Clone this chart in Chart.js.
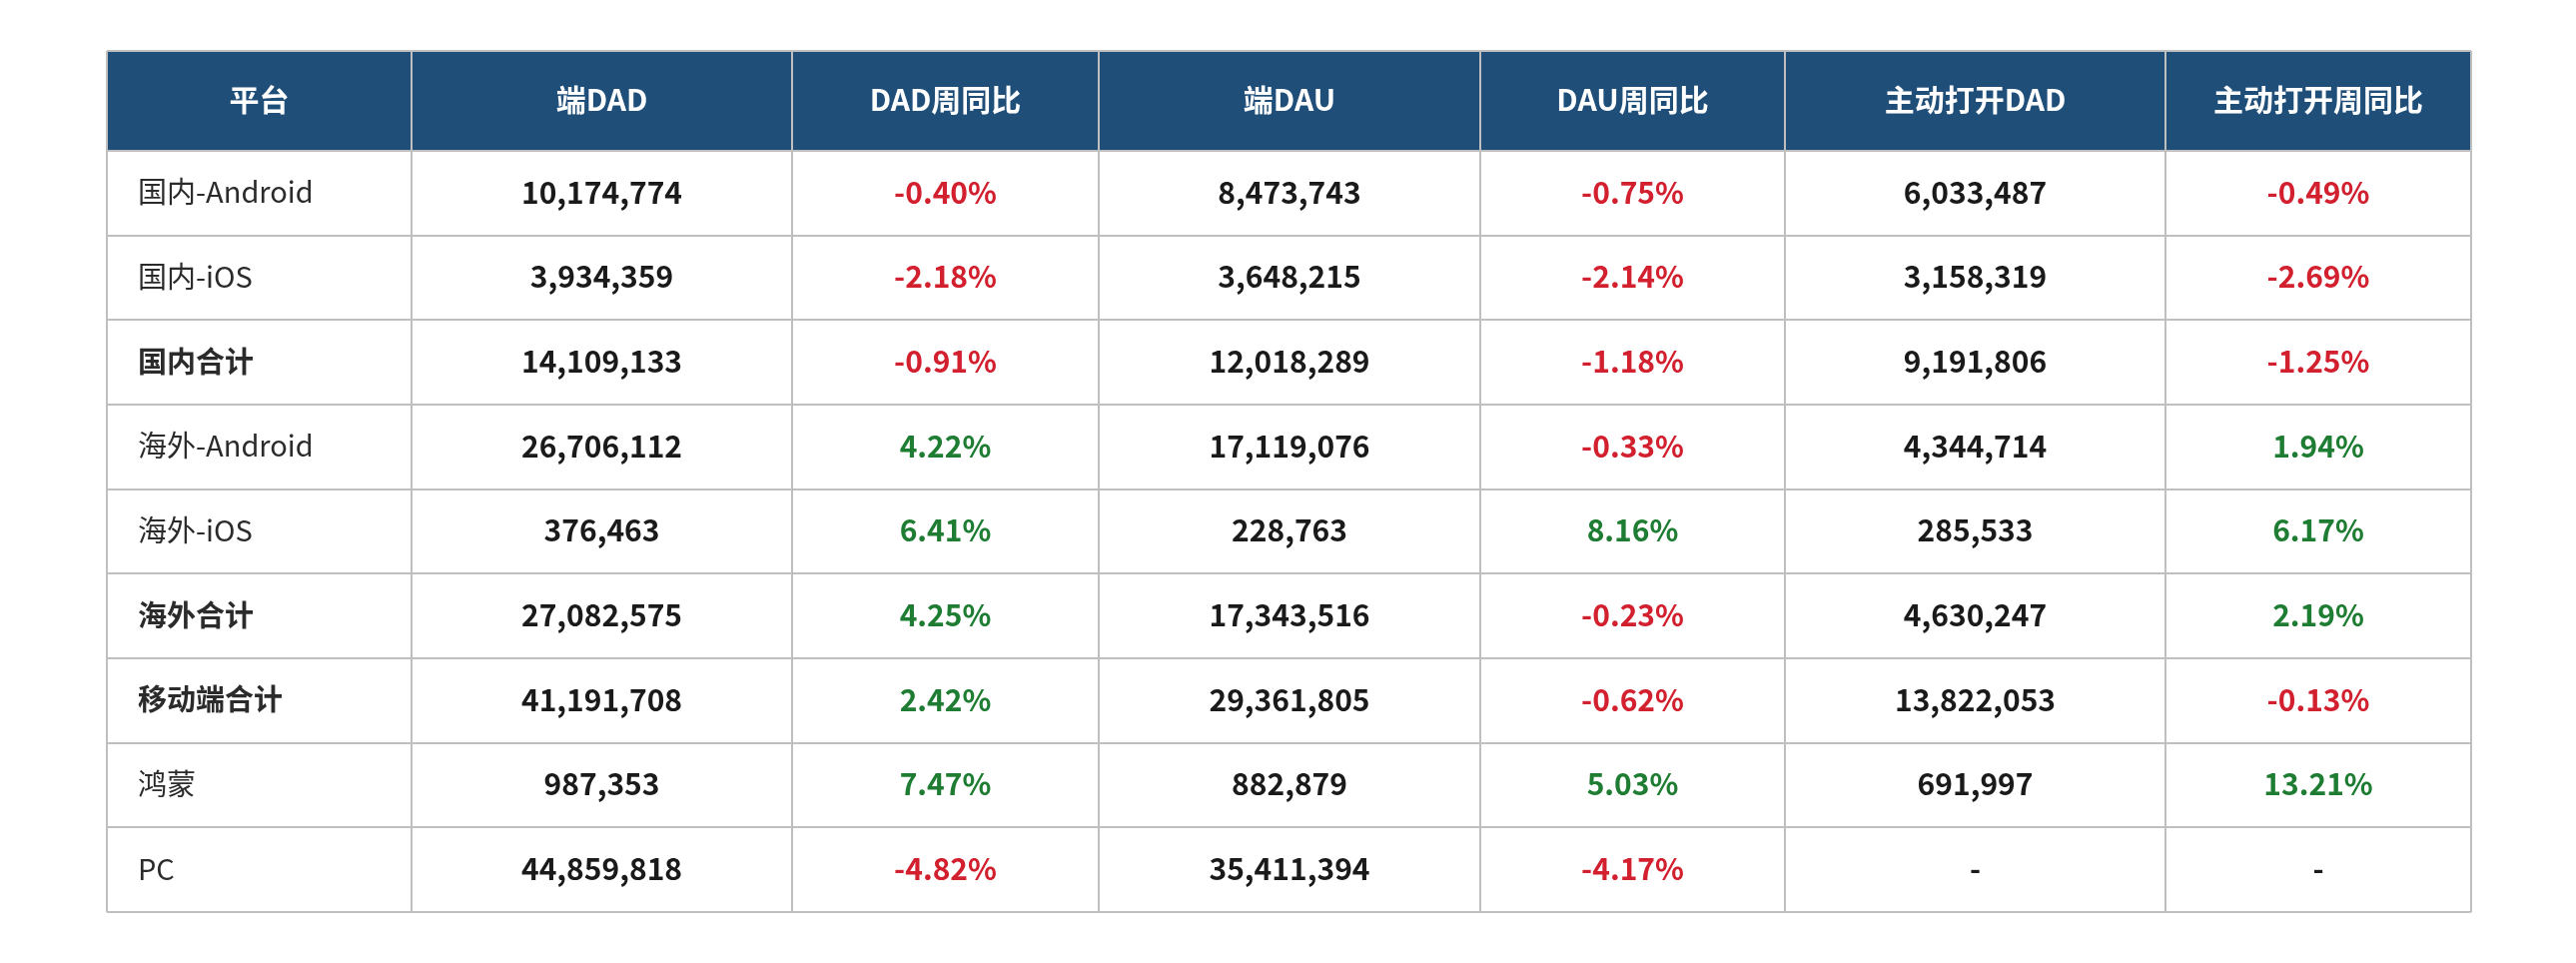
<!DOCTYPE html>
<html>
<head>
<meta charset="utf-8">
<script src="https://cdn.jsdelivr.net/npm/chart.js@4.4.1/dist/chart.umd.min.js"></script>
<style>
html,body{margin:0;padding:0;background:#fff;}
#wrap{width:2579px;height:964px;}
</style>
</head>
<body>
<div id="wrap"><canvas id="c" width="2579" height="964"></canvas></div>
<script>
// ---- data ----
const headers = ['平台', '端DAD', 'DAD周同比', '端DAU', 'DAU周同比', '主动打开DAD', '主动打开周同比'];
const platforms = ['国内-Android', '国内-iOS', '国内合计', '海外-Android', '海外-iOS', '海外合计', '移动端合计', '鸿蒙', 'PC'];
const totalRows = ['国内合计', '海外合计', '移动端合计'];
const dad = [10174774, 3934359, 14109133, 26706112, 376463, 27082575, 41191708, 987353, 44859818];
const dadWoW = [-0.40, -2.18, -0.91, 4.22, 6.41, 4.25, 2.42, 7.47, -4.82];
const dau = [8473743, 3648215, 12018289, 17119076, 228763, 17343516, 29361805, 882879, 35411394];
const dauWoW = [-0.75, -2.14, -1.18, -0.33, 8.16, -0.23, -0.62, 5.03, -4.17];
const activeDad = [6033487, 3158319, 9191806, 4344714, 285533, 4630247, 13822053, 691997, null];
const activeWoW = [-0.49, -2.69, -1.25, 1.94, 6.17, 2.19, -0.13, 13.21, null];

// ---- layout / style (not data) ----
const colWidths = [305, 381, 307, 382, 305, 381, 306];
const headerUnits = 100;
const rowUnits = 84.67;
const FONT = '"Noto Sans CJK SC", "Noto Sans", sans-serif';
const C = {
  header: '#1f4e79', grid: '#bfbfbf', text: '#1a1a1a', label: '#2b2b2b',
  neg: '#d2202f', pos: '#1e7d32'
};

const colEdges = [0];
colWidths.forEach(w => colEdges.push(colEdges[colEdges.length - 1] + w));
const totalW = colEdges[colEdges.length - 1];
const totalH = headerUnits + rowUnits * platforms.length;

const fmtInt = v => v === null ? '-' : v.toLocaleString('en-US');
const fmtPct = v => v === null ? '-' : v.toFixed(2) + '%';
const pctColor = v => v === null ? C.text : (v < 0 ? C.neg : C.pos);

const columns = [
  null,
  { vals: dad, fmt: fmtInt, col: () => C.text },
  { vals: dadWoW, fmt: fmtPct, col: pctColor },
  { vals: dau, fmt: fmtInt, col: () => C.text },
  { vals: dauWoW, fmt: fmtPct, col: pctColor },
  { vals: activeDad, fmt: fmtInt, col: () => C.text },
  { vals: activeWoW, fmt: fmtPct, col: pctColor }
];

const tablePlugin = {
  id: 'tablePlugin',
  afterDraw(chart) {
    const ctx = chart.ctx;
    const xs = chart.scales.x, ys = chart.scales.y;
    const X = v => xs.getPixelForValue(v);
    const Y = v => ys.getPixelForValue(v);
    const rowTop = r => r < 0 ? 0 : headerUnits + r * rowUnits;
    const rowBot = r => r < 0 ? headerUnits : headerUnits + (r + 1) * rowUnits;
    ctx.save();
    // header background
    ctx.fillStyle = C.header;
    ctx.fillRect(X(0), Y(0), X(totalW) - X(0), Y(headerUnits) - Y(0));
    // grid lines
    ctx.strokeStyle = C.grid;
    ctx.lineWidth = 2;
    ctx.beginPath();
    for (let r = -1; r < platforms.length; r++) {
      const y = Math.round(Y(rowTop(r)));
      ctx.moveTo(X(0), y); ctx.lineTo(X(totalW), y);
    }
    const yb = Math.round(Y(totalH));
    ctx.moveTo(X(0), yb); ctx.lineTo(X(totalW), yb);
    colEdges.forEach(e => {
      const x = Math.round(X(e));
      ctx.moveTo(x, Y(0)); ctx.lineTo(x, Y(totalH));
    });
    ctx.stroke();
    // header text
    ctx.textBaseline = 'middle';
    ctx.textAlign = 'center';
    ctx.fillStyle = '#ffffff';
    ctx.font = 'bold 30px ' + FONT;
    headers.forEach((h, i) => {
      ctx.fillText(h, (X(colEdges[i]) + X(colEdges[i + 1])) / 2, (Y(0) + Y(headerUnits)) / 2 - 1);
    });
    // body
    platforms.forEach((p, r) => {
      const cy = (Y(rowTop(r)) + Y(rowBot(r))) / 2 - 1;
      ctx.textAlign = 'left';
      ctx.fillStyle = C.label;
      ctx.font = (totalRows.includes(p) ? 'bold ' : '') + '29px ' + FONT;
      ctx.fillText(p, X(colEdges[0]) + 31, cy);
      for (let c = 1; c < columns.length; c++) {
        const col = columns[c];
        const v = col.vals[r];
        ctx.textAlign = 'center';
        ctx.fillStyle = col.col(v);
        ctx.font = 'bold 30px ' + FONT;
        ctx.fillText(col.fmt(v), (X(colEdges[c]) + X(colEdges[c + 1])) / 2, cy);
      }
    });
    ctx.restore();
  }
};

new Chart(document.getElementById('c'), {
  type: 'scatter',
  data: { datasets: [{ data: [], showLine: false }] },
  options: {
    responsive: false,
    animation: false,
    devicePixelRatio: 1,
    layout: { padding: { left: 107, right: 105, top: 51, bottom: 51 } },
    plugins: { legend: { display: false }, tooltip: { enabled: false } },
    scales: {
      x: { type: 'linear', display: false, min: 0, max: totalW },
      y: { type: 'linear', display: false, min: 0, max: totalH, reverse: true }
    }
  },
  plugins: [tablePlugin]
});
</script>
</body>
</html>
